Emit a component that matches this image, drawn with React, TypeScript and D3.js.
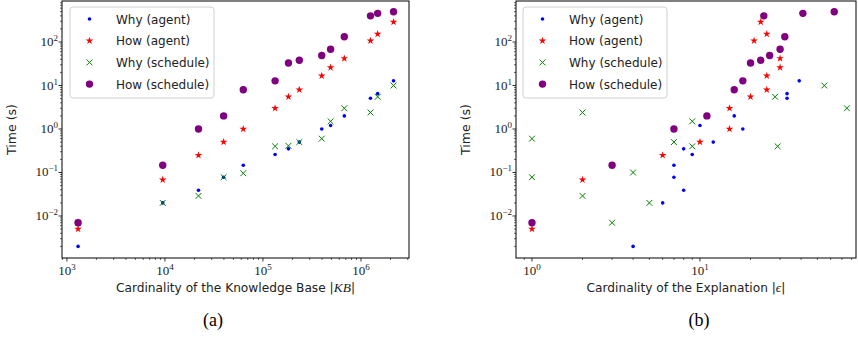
import React, { useEffect, useRef } from 'react';
import * as d3 from 'd3';

type Pt = [number, number];

// panel (a): cardinality of the knowledge base vs time
const whyAgentA: Pt[] = [[1300, 0.002], [9500, 0.02], [22000, 0.039], [39700, 0.078], [63000, 0.147], [133000, 0.26], [182000, 0.35], [235000, 0.5], [398000, 1.0], [490000, 1.2], [676000, 2.0], [1250000, 5.1], [1480000, 6.5], [2150000, 12.8]];
const howAgentA: Pt[] = [[1300, 0.005], [9500, 0.068], [22000, 0.25], [39700, 0.5], [63000, 1.0], [133000, 3.0], [182000, 5.5], [235000, 8.0], [398000, 16.7], [490000, 26], [676000, 42], [1250000, 107], [1480000, 153], [2150000, 288]];
const whySchedA: Pt[] = [[1300, 0.007], [9500, 0.02], [22000, 0.029], [39700, 0.078], [63000, 0.096], [133000, 0.4], [182000, 0.41], [235000, 0.5], [398000, 0.6], [490000, 1.5], [676000, 3.0], [1250000, 2.4], [1480000, 5.5], [2150000, 10]];
const howSchedA: Pt[] = [[1300, 0.007], [9500, 0.147], [22000, 1.0], [39700, 2.0], [63000, 8.0], [133000, 12.8], [182000, 33], [235000, 38], [398000, 49], [490000, 68], [676000, 132], [1250000, 400], [1480000, 456], [2150000, 497]];

// panel (b): cardinality of the explanation vs time
const whyAgentB: Pt[] = [[4, 0.002], [6, 0.02], [8, 0.039], [7, 0.078], [7, 0.147], [9, 0.26], [8, 0.35], [12, 0.5], [10, 1.2], [18, 1.0], [16, 2.0], [33, 5.1], [33, 6.5], [39, 12.8]];
const howAgentB: Pt[] = [[1, 0.005], [2, 0.068], [6, 0.25], [10, 0.5], [15, 1.0], [15, 3.0], [20, 5.5], [25, 8.0], [25, 16.7], [30, 26], [30, 42], [21, 107], [25, 153], [23, 288]];
const whySchedB: Pt[] = [[1, 0.6], [1, 0.078], [2, 2.4], [2, 0.029], [3, 0.007], [4, 0.1], [5, 0.02], [7, 0.5], [9, 0.4], [9, 1.5], [29, 0.4], [28, 5.5], [55, 10], [75, 3.0]];
const howSchedB: Pt[] = [[1, 0.007], [3, 0.147], [7, 1.0], [11, 2.0], [16, 8.0], [18, 12.8], [20, 33], [23, 38], [26, 49], [30, 68], [32, 132], [24, 400], [41, 456], [63, 497]];

const seriesNames = ['Why (agent)', 'How (agent)', 'Why (schedule)', 'How (schedule)'];

const SANS = 'DejaVu Sans, sans-serif';
const SERIF = 'Liberation Serif, serif';

type PanelCfg = {
  series: Pt[][];
  xDomain: [number, number];
  xRange: [number, number];
  xLabel: [string, string];
  caption: string;
  captionX: number;
  legendX: number;
};

const yDomain: [number, number] = [Math.pow(10, -2.966), Math.pow(10, 2.943)];
const yRange: [number, number] = [258, 1];

const drawMarker = (g: d3.Selection<SVGGElement, unknown, null, undefined>, kind: number, x: number, y: number) => {
  if (kind === 0) {
    g.append('circle').attr('cx', x).attr('cy', y).attr('r', 1.8).attr('fill', 'blue');
  } else if (kind === 1) {
    g.append('path')
      .attr('d', d3.symbol().type(d3.symbolStar).size(18)())
      .attr('transform', `translate(${x},${y})`)
      .attr('fill', 'red');
  } else if (kind === 2) {
    const s = 2.9;
    g.append('path')
      .attr('d', `M${x - s},${y - s}L${x + s},${y + s}M${x - s},${y + s}L${x + s},${y - s}`)
      .attr('stroke', 'green').attr('stroke-width', 1).attr('fill', 'none');
  } else {
    g.append('circle').attr('cx', x).attr('cy', y).attr('r', 3.7).attr('fill', 'purple');
  }
};

const logTicks = (domain: [number, number]) => {
  const out: { v: number; major: boolean; e: number }[] = [];
  const lo = Math.floor(Math.log10(domain[0]));
  const hi = Math.ceil(Math.log10(domain[1]));
  for (let e = lo; e <= hi; e++) {
    for (let m = 1; m <= 9; m++) {
      const v = m * Math.pow(10, e);
      if (v >= domain[0] * 0.9999 && v <= domain[1] * 1.0001) out.push({ v, major: m === 1, e });
    }
  }
  return out;
};

const sup = (e: number) => (e < 0 ? '\u2212' + Math.abs(e) : String(e));

const App: React.FC = () => {
  const svgRef = useRef<SVGSVGElement>(null);

  useEffect(() => {
    if (!svgRef.current) return;
    const svg = d3.select(svgRef.current);
    svg.selectAll('*').remove();

    const panels: PanelCfg[] = [
      {
        series: [whyAgentA, howAgentA, whySchedA, howSchedA],
        xDomain: [Math.pow(10, 2.95), Math.pow(10, 6.49)],
        xRange: [62, 409],
        xLabel: ['Cardinality of the Knowledge Base |', 'KB'],
        caption: '(a)',
        captionX: 213,
        legendX: 70,
      },
      {
        series: [whyAgentB, howAgentB, whySchedB, howSchedB],
        xDomain: [Math.pow(10, -0.095), Math.pow(10, 1.929)],
        xRange: [516, 856],
        xLabel: ['Cardinality of the Explanation |', '\u03f5'],
        caption: '(b)',
        captionX: 699,
        legendX: 523,
      },
    ];

    panels.forEach(p => {
      const x = d3.scaleLog().domain(p.xDomain).range(p.xRange);
      const y = d3.scaleLog().domain(yDomain).range(yRange);
      const g = svg.append('g');
      const [x0, x1] = p.xRange;
      const [yb, yt] = yRange;

      // x ticks
      logTicks(p.xDomain).forEach(t => {
        const px = x(t.v);
        g.append('line').attr('x1', px).attr('x2', px).attr('y1', yb).attr('y2', yb + (t.major ? 3.5 : 2))
          .attr('stroke', '#000').attr('stroke-width', t.major ? 0.8 : 0.6);
        if (t.major) {
          const txt = g.append('text').attr('x', px).attr('y', yb + 17).attr('text-anchor', 'middle')
            .attr('font-family', SERIF).attr('font-size', 13).attr('fill', '#222');
          txt.append('tspan').text('10');
          txt.append('tspan').attr('dy', -5).attr('font-size', 9).text(sup(t.e));
        }
      });

      // y ticks
      logTicks(yDomain).forEach(t => {
        const py = y(t.v);
        g.append('line').attr('x1', x0).attr('x2', x0 - (t.major ? 3.5 : 2)).attr('y1', py).attr('y2', py)
          .attr('stroke', '#000').attr('stroke-width', t.major ? 0.8 : 0.6);
        if (t.major) {
          const txt = g.append('text').attr('x', x0 - 4).attr('y', py + 4).attr('text-anchor', 'end')
            .attr('font-family', SERIF).attr('font-size', 13).attr('fill', '#222');
          txt.append('tspan').text('10');
          txt.append('tspan').attr('dy', -5).attr('font-size', 9).text(sup(t.e));
        }
      });

      // points
      const pts = g.append('g');
      p.series.forEach((s, k) => {
        s.forEach(d => drawMarker(pts, k, x(d[0]), y(d[1])));
      });

      // spines
      g.append('rect').attr('x', x0).attr('y', yt).attr('width', x1 - x0).attr('height', yb - yt)
        .attr('fill', 'none').attr('stroke', '#000').attr('stroke-width', 1);

      // legend
      const lg = g.append('g');
      lg.append('rect').attr('x', p.legendX).attr('y', 7).attr('width', 144).attr('height', 91).attr('rx', 3)
        .attr('fill', 'white').attr('fill-opacity', 0.8).attr('stroke', '#d0d0d0').attr('stroke-width', 1);
      seriesNames.forEach((name, k) => {
        const ry = 19 + k * 21.7;
        drawMarker(lg, k, p.legendX + 19.5, ry);
        lg.append('text').attr('x', p.legendX + 46).attr('y', ry + 4.5)
          .attr('font-family', SANS).attr('font-size', 12).attr('fill', '#222').text(name);
      });

      // axis labels
      const cx = (x0 + x1) / 2;
      const xl = g.append('text').attr('x', cx).attr('y', 292).attr('text-anchor', 'middle')
        .attr('font-family', SANS).attr('font-size', 12.2).attr('fill', '#222');
      xl.append('tspan').text(p.xLabel[0]);
      xl.append('tspan').attr('font-family', SERIF).attr('font-style', 'italic').attr('font-size', 13.5).text(p.xLabel[1]);
      xl.append('tspan').text('|');

      g.append('text').attr('transform', `translate(${x0 - 46},${(yb + yt) / 2}) rotate(-90)`)
        .attr('text-anchor', 'middle').attr('font-family', SANS).attr('font-size', 12.5).attr('fill', '#222')
        .text('Time (s)');

      g.append('text').attr('x', p.captionX).attr('y', 326).attr('text-anchor', 'middle')
        .attr('font-family', SERIF).attr('font-size', 18).attr('fill', '#000').text(p.caption);
    });
  }, []);

  return (
    <svg ref={svgRef} width={858} height={340}
      style={{ position: 'absolute', left: 0, top: 0, background: '#fff' }} />
  );
};

export default App;
